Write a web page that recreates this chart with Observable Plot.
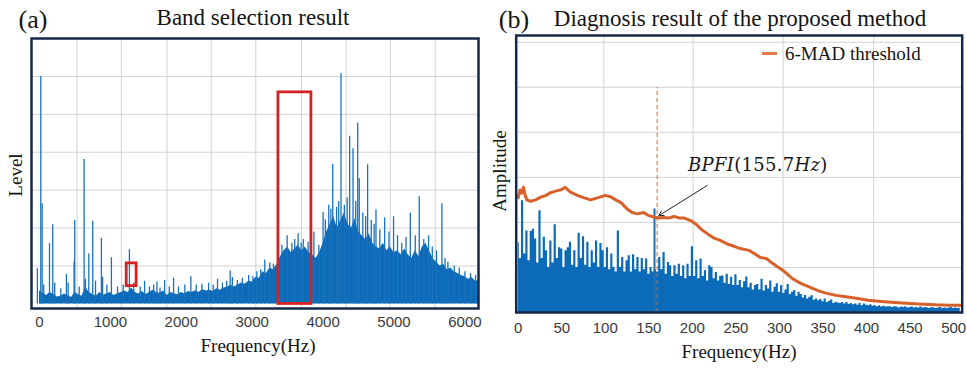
<!DOCTYPE html>
<html><head><meta charset="utf-8">
<script src="https://cdn.jsdelivr.net/npm/d3@7"></script>
<script src="https://cdn.jsdelivr.net/npm/@observablehq/plot@0.6"></script>
<style>
body{margin:0;background:#fff;}
#wrap{position:relative;width:967px;height:368px;overflow:hidden;font-family:"Liberation Serif","Times New Roman",serif;background:#fff;}
.t{position:absolute;white-space:nowrap;color:#151515;line-height:1;}
.plot{position:absolute;top:0;}
</style></head><body><div id="wrap"></div>
<script>
// ---------- Panel (a): band selection spectrum ----------
const stepA = 50; // Hz between floor samples
const floorA = [0.35,0.28,0.22,0.3,0.25,0.18,0.2,0.26,0.22,0.17,0.3,0.24,0.2,0.45,0.3,0.25,0.2,0.3,0.22,0.27,
  0.3,0.22,0.26,0.3,0.34,0.3,0.42,0.3,0.26,0.33,0.25,0.3,0.36,0.3,0.28,0.34,0.22,0.3,0.27,0.24,
  0.3,0.26,0.33,0.3,0.35,0.3,0.38,0.34,0.36,0.33,0.4,0.36,0.42,0.44,0.5,0.45,0.5,0.55,0.52,0.6,
  0.58,0.7,0.68,0.85,0.8,0.95,0.9,1.05,1.25,1.4,1.5,1.35,1.45,1.55,1.4,1.5,1.35,1.3,1.2,1.35,
  1.6,1.9,2.1,2.3,2.0,2.2,2.4,2.1,2.0,2.25,1.9,1.8,1.7,1.85,1.6,1.5,1.45,1.6,1.4,1.5,
  1.35,1.4,1.3,1.45,1.3,1.2,1.4,1.25,1.5,1.6,1.4,1.2,1.1,1.0,1.05,0.9,0.95,0.85,0.8,0.75,
  0.72,0.65,0.7,0.6,0.62];
const spikesA = [[-30,0.93],[18,6.0],[37,2.64],[60,0.5],[141,1.59],[187,2.09],[215,0.55],[300,0.4],[380,0.78],[404,0.55],[488,1.1],[497,2.2],
  [560,0.45],[629,3.81],[648,0.65],[695,1.32],[751,2.18],[790,0.6],[873,1.73],[890,0.7],[950,0.5],[1014,1.22],[1100,0.45],[1180,0.5],[1268,1.43],[1330,0.55],[1420,0.45],[1483,0.6],
  [1550,0.45],[1610,0.5],[1657,0.58],[1700,0.42],[1765,0.62],[1830,0.45],[1891,0.68],[1960,0.45],[2050,0.5],[2135,0.72],[2210,0.5],[2290,0.52],[2385,0.55],[2450,0.5],[2511,0.65],[2580,0.55],[2640,0.6],[2690,0.87],[2720,0.7],[2790,0.62],[2860,0.68],
  [2950,0.75],[3010,0.72],[3065,0.85],[3120,0.9],[3177,1.16],[3248,1.08],[3300,1.05],[3420,1.55],[3493,1.8],[3560,1.6],[3600,1.7],[3648,1.85],[3690,1.6],[3720,1.7],[3789,1.63],[3870,1.9],[3940,1.55],
  [4000,2.42],[4032,2.22],[4080,2.6],[4110,2.5],[4136,3.68],[4190,2.55],[4220,2.7],[4253,6.07],[4300,2.6],[4340,2.8],[4375,4.42],[4422,4.09],[4460,2.7],[4488,4.77],
  [4510,3.3],[4560,2.4],[4600,2.3],[4628,3.67],[4680,2.2],[4720,2.1],[4746,2.48],[4800,1.95],[4868,2.27],[4930,1.9],[4994,2.3],[5050,1.8],[5110,1.6],[5170,1.75],[5230,2.39],[5300,1.8],
  [5356,2.83],[5420,1.7],[5488,1.8],[5540,1.5],[5600,1.4],[5676,2.64],[5720,1.2],[5760,1.1],[5850,1.0],[5920,0.95],[6000,0.85],[6080,0.8],[6150,0.75]];
const boxesA = [{f1:1230,f2:1370,l1:0.47,l2:1.07},{f1:3370,f2:3835,l1:0.0,l2:5.58}];
const gridFreqA = [530,1155,1797,2422,3051,3694,4324,4948,5582];
const gridLevelA = [1,2,3,4,5,6];
const ticksA = [0,1000,2000,3000,4000,5000,6000];

// ---------- Panel (b): diagnosis envelope spectrum ----------
const stepB = 2.5; // Hz between samples
const ampB = [1.55,1.2,2.48,1.3,1.81,1.15,1.8,1.85,1.63,1.1,2.26,1.2,1.67,1.37,1.0,1.59,1.1,1.95,1.2,1.44,
  1.41,1.0,1.37,1.44,1.56,1.05,1.37,1.0,1.76,1.2,1.68,1.05,1.56,1.0,1.37,1.1,1.59,1.0,1.53,1.37,
  1.0,1.44,0.95,1.3,1.0,0.9,1.81,1.0,1.22,0.9,1.15,1.26,0.9,1.28,0.95,1.22,0.9,1.2,0.95,1.19,
  0.85,1.0,0.9,0.95,0.9,1.22,0.95,1.33,0.85,1.11,1.04,0.8,1.04,0.85,1.07,0.8,1.04,0.75,1.07,0.8,
  1.46,0.8,1.15,0.75,1.19,0.8,0.93,0.7,1.04,1.0,0.75,0.89,0.7,0.8,0.81,0.65,0.85,0.62,0.78,0.6,
  0.84,0.6,0.71,0.55,0.68,0.79,0.55,0.65,0.5,0.6,0.62,0.5,0.74,0.48,0.6,0.52,0.7,0.45,0.56,0.64,
  0.45,0.6,0.42,0.5,0.62,0.4,0.45,0.49,0.36,0.45,0.4,0.32,0.38,0.3,0.34,0.37,0.27,0.3,0.26,0.29,
  0.24,0.3,0.22,0.25,0.28,0.2,0.23,0.21,0.2,0.22,0.19,0.22,0.18,0.2,0.17,0.19,0.16,0.2,0.15,0.19,
  0.16,0.15,0.17,0.14,0.15,0.13,0.15,0.12,0.14,0.12,0.13,0.13,0.11,0.13,0.12,0.1,0.12,0.11,0.13,0.1,
  0.11,0.12,0.1,0.11,0.1,0.12,0.1,0.11,0.1,0.09,0.11,0.1,0.09,0.1,0.11,0.09,0.1,0.09,0.1,0.11,
  0.09,0.1,0.09,0.1];
const thrFreq = [0,2,4,6,8,10,14,20,26,32,37,44,50,54,60,68,75,83,92,100,106,112,118,125,131,137,144,150,156,162,
  167,173,179,185,190,198,205,210,218,225,232,240,248,255,265,272,278,285,290,296,305,315,325,334,345,353,365,376,390,402,
  420,441,460,479,495,509];
const thrVal = [2.55,2.72,2.65,2.78,2.6,2.5,2.47,2.5,2.56,2.6,2.66,2.7,2.73,2.78,2.67,2.6,2.55,2.5,2.55,2.6,
  2.57,2.5,2.44,2.3,2.22,2.19,2.22,2.15,2.12,2.1,2.11,2.1,2.13,2.1,2.1,2.04,1.95,1.85,1.74,1.65,
  1.6,1.52,1.47,1.42,1.38,1.3,1.22,1.2,1.12,1.04,0.92,0.75,0.64,0.57,0.48,0.43,0.38,0.35,0.31,0.27,
  0.24,0.21,0.19,0.17,0.16,0.16];
const bpfiSpike = {f:156.5, a:2.3};
const bpfiMarker = {f:159.5, top:5.0};
const bpfiArrow = {f1:217, a1:2.82, f2:161.5, a2:2.15};
const gridFreqB = [98.3,200.9,304.2,408.2];
const gridLevelB = [1,2,3,4,5,6];
const ticksB = [0,50,100,150,200,250,300,350,400,450,500];

const BLUE = "#0b6bb8";
const GRID = "#d2d2d2";
const FRAME = "#16284a";
const ORANGE = "#d9602a";
const tickFont = "'Liberation Sans Narrow','Arial Narrow','Liberation Sans',sans-serif";

const wrap = document.getElementById("wrap");

const chartA = Plot.plot({
  width: 490, height: 368,
  marginLeft: 31, marginRight: 12, marginTop: 38, marginBottom: 60,
  style: {background: "transparent", fontFamily: tickFont, fontSize: "15px", color: "#3a3a3a"},
  x: {domain: [-113, 6192]},
  y: {domain: [-0.12, 7], axis: null},
  marks: [
    Plot.ruleX(gridFreqA, {stroke: GRID, strokeWidth: 1}),
    Plot.ruleY(gridLevelA, {stroke: GRID, strokeWidth: 1}),
    Plot.areaY(floorA, {x: (d, i) => i * stepA, y: d => d, fill: BLUE}),
    Plot.ruleX(spikesA, {x: d => d[0], y1: 0, y2: d => d[1], stroke: "#1a72bc", strokeWidth: 1.3}),
    Plot.rect(boxesA, {x1: "f1", x2: "f2", y1: "l1", y2: "l2", fill: "none", stroke: "#d42222", strokeWidth: 2.8}),
    Plot.axisX(ticksA, {tickSize: 0, tickPadding: 8, tickFormat: d => String(d), label: null, fontSize: 15}),
    Plot.frame({stroke: FRAME, strokeWidth: 2.5})
  ]
});
chartA.classList.add("plot");
chartA.style.left = "0px";
wrap.appendChild(chartA);

const chartB = Plot.plot({
  width: 477, height: 368,
  marginLeft: 25.7, marginRight: 5.3, marginTop: 35, marginBottom: 56,
  style: {background: "transparent", fontFamily: tickFont, fontSize: "15px", color: "#3a3a3a"},
  x: {domain: [-2.3, 509.8]},
  y: {domain: [0, 6.15], axis: null},
  marks: [
    Plot.ruleX(gridFreqB, {stroke: GRID, strokeWidth: 1}),
    Plot.ruleY(gridLevelB, {stroke: GRID, strokeWidth: 1}),
    Plot.areaY(ampB, {x: (d, i) => i * stepB, y: d => d, fill: BLUE, curve: "step"}),
    Plot.ruleX([bpfiSpike], {x: "f", y1: 0, y2: "a", stroke: "#1a72bc", strokeWidth: 2}),
    Plot.ruleX([bpfiMarker], {x: "f", y1: 0, y2: "top", stroke: "#c0733a", strokeWidth: 1, strokeDasharray: "4,3"}),
    Plot.line(thrFreq, {x: d => d, y: (d, i) => thrVal[i], stroke: ORANGE, strokeWidth: 3}),
    Plot.arrow([bpfiArrow], {x1: "f1", y1: "a1", x2: "f2", y2: "a2", stroke: "#222", strokeWidth: 1, headLength: 8}),
    Plot.axisX(ticksB, {tickSize: 0, tickPadding: 10, tickFormat: d => String(d), label: null, fontSize: 15}),
    Plot.frame({stroke: FRAME, strokeWidth: 2.5})
  ]
});
chartB.classList.add("plot");
chartB.style.left = "490px";
wrap.appendChild(chartB);

function label(html, x, y, size, extra) {
  const d = document.createElement("div");
  d.className = "t";
  d.innerHTML = html;
  d.style.left = x + "px";
  d.style.top = y + "px";
  d.style.fontSize = size + "px";
  d.style.transform = "translate(-50%,-50%)" + (extra || "");
  wrap.appendChild(d);
  return d;
}
label("(a)", 33, 20, 26);
label("Band selection result", 253, 17, 23);
label("(b)", 514, 20, 26);
label("Diagnosis result of the proposed method", 740, 18, 23);
label("Level", 15, 175, 19, " rotate(-90deg)");
label("Amplitude", 499, 171, 19, " rotate(-90deg)");
label("Frequency(Hz)", 258, 345, 19);
label("Frequency(Hz)", 739, 351, 19);
// legend
const sw = document.createElement("div");
sw.style.cssText = "position:absolute;left:762px;top:52px;width:15px;height:3px;background:#e07b45;";
wrap.appendChild(sw);
const lg = label("6-MAD threshold", 785, 53, 19);
lg.style.transform = "translate(0,-50%)";
// annotation
const an = label("<i>BPFI</i>(155.7<i>Hz</i>)", 688, 165, 18);
an.style.transform = "translate(0,-50%)";
an.style.fontFamily = "'DejaVu Serif',serif";
an.style.letterSpacing = "0.3px";
</script>
</body></html>
